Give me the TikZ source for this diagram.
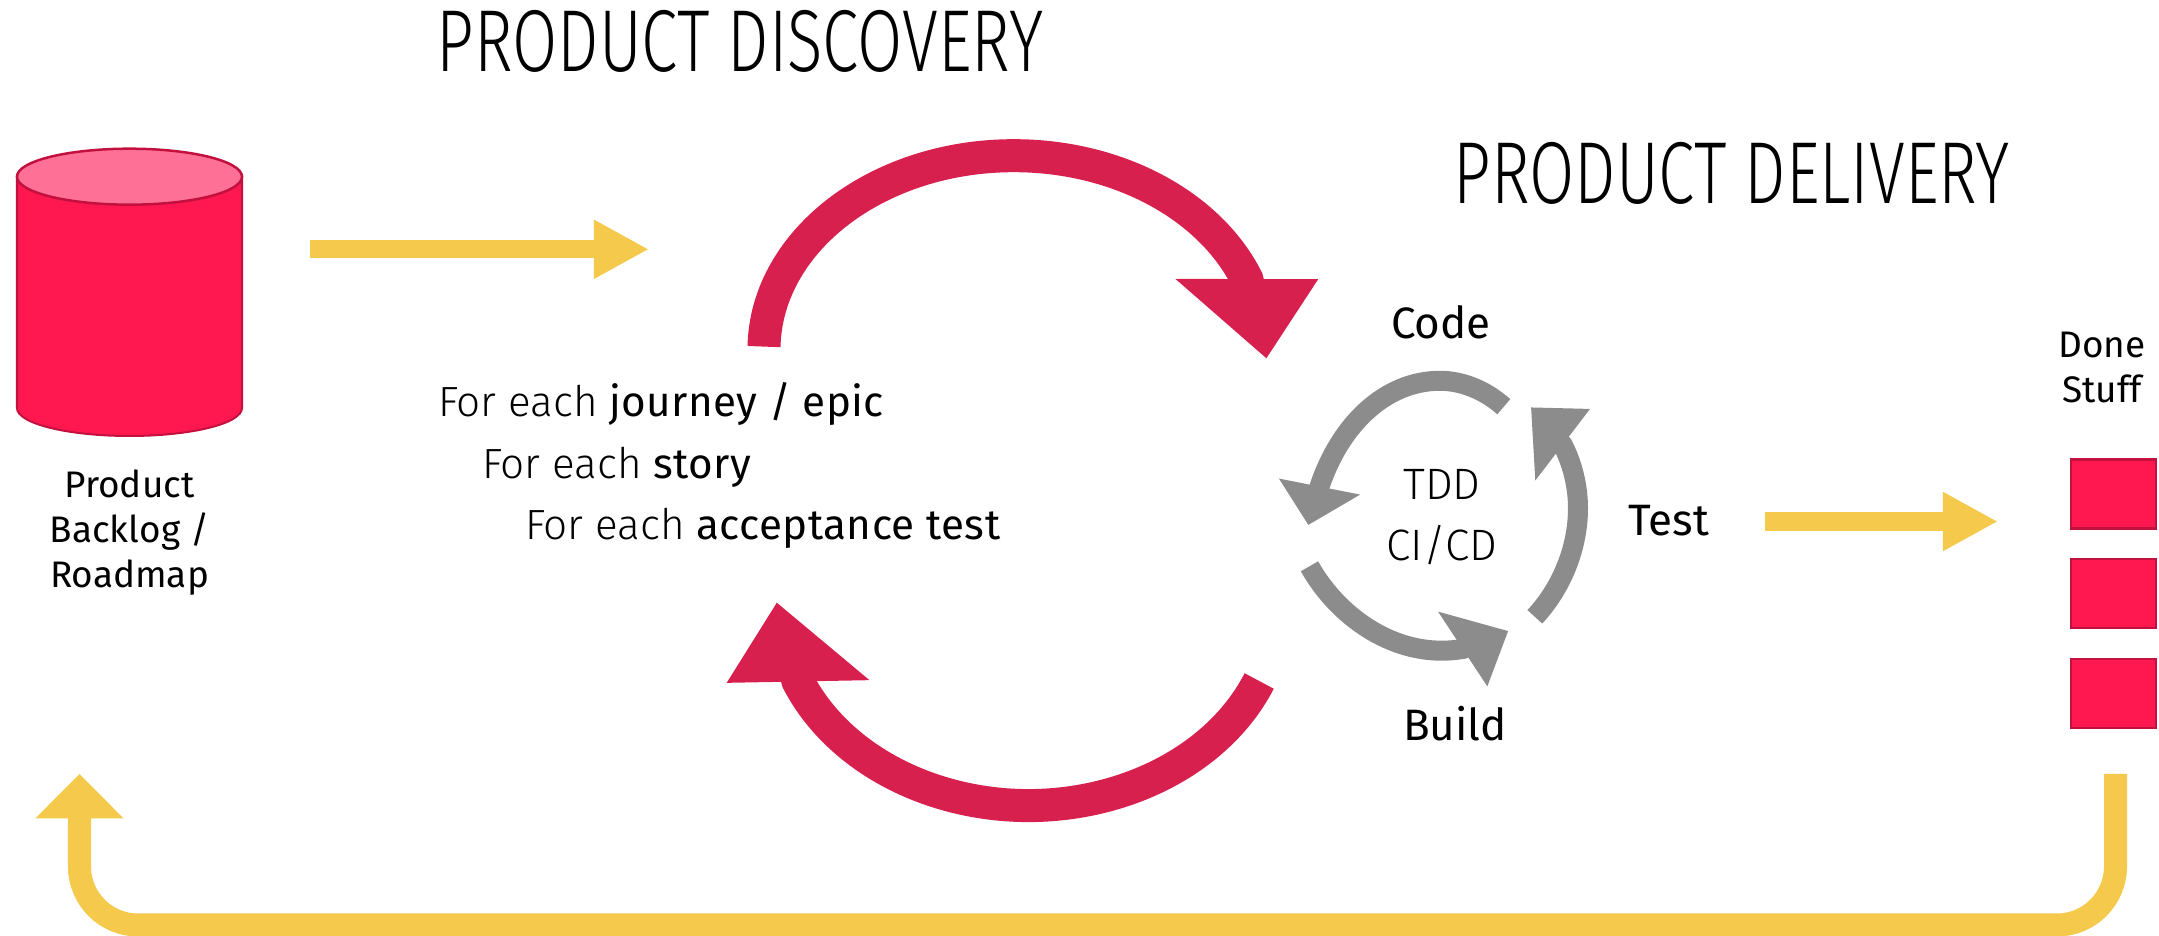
\documentclass[tikz,border=0pt]{standalone}
\usepackage{fontspec}
\setmainfont{Fira Sans}
\newfontfamily\lightfont{Fira Sans Light}
\newfontfamily\medfont[LetterSpace=1]{Fira Sans}
\newfontfamily\titlefont[FakeStretch=0.745]{Fira Sans Light}
\usepackage{xcolor}
\usetikzlibrary{arrows.meta}
\definecolor{flowyellow}{HTML}{F5C94B}
\definecolor{cyclered}{HTML}{D8204F}
\definecolor{stockred}{HTML}{FF174F}
\definecolor{stocktop}{HTML}{FF7096}
\definecolor{stockedge}{HTML}{C3113F}
\definecolor{loopgray}{HTML}{8C8C8C}
\tikzset{
  every node/.style = {inner sep=0pt, outer sep=0pt},
  title label/.style = {anchor=base, font=\titlefont\fontsize{25}{30}\selectfont},
  step label/.style = {anchor=base, font=\fontsize{12.5}{15}\selectfont},
  light label/.style = {anchor=base, font=\lightfont\fontsize{12.5}{15}\selectfont},
  nest label/.style = {anchor=base west, font=\lightfont\fontsize{12}{15}\selectfont},
  stock label/.style = {anchor=base, align=center, font=\fontsize{10.5}{12.8}\selectfont},
  stock body/.style = {draw=stockedge, fill=stockred, line width=0.02cm},
  stock lid/.style = {draw=stockedge, fill=stocktop, line width=0.025cm},
  done box/.style = {draw=stockedge, fill=stockred, line width=0.025cm, minimum width=0.85cm, minimum height=0.69cm},
  flow arrow/.style n args = {3}{draw=flowyellow, line width=#1, -{Triangle[length=#2,width=#3]}},
  cycle arrow/.style = {draw=cyclered, line width=0.33cm, -{Triangle[length=0.82cm,width=1.33cm,slant=0.25]}},
  loop arrow/.style n args = {3}{draw=loopgray, line width=0.2cm, -{Triangle[length=#1,width=#2,slant=#3]}}
}

\begin{document}
\begin{tikzpicture}[x=0.01cm,y=0.01cm]
  \useasboundingbox (0,0) rectangle (2159,936);

  \node[title label] (discovery) at (740,864) {PRODUCT DISCOVERY};
  \node[title label] (delivery) at (1732,732) {PRODUCT DELIVERY};

  \draw[stock body] (17,759.3) -- (17,528) arc[start angle=180, end angle=360, x radius=112.5, y radius=28] -- (242,759.3) -- cycle;
  \draw[stock lid] (129.5,759.3) ellipse[x radius=112.5, y radius=28];
  \node[stock label] (backlog label) at (129.5,348.3) {Product\\Backlog /\\Roadmap};

  \node[nest label] (epic) at (438,519.3) {For each {\medfont journey / epic}};
  \node[nest label] (story) at (482,457.7) {For each {\medfont story}};
  \node[nest label] (test case) at (525,396) {For each {\medfont acceptance test}};

  \node[step label] (code) at (1441,597.7) {Code};
  \node[step label] (build) at (1455,195.3) {Build};
  \node[step label] (test) at (1669,400) {Test};
  \node[light label] (tdd) at (1442,436.7) {TDD};
  \node[light label] (cicd) at (1442,375) {CI/CD};

  \node[stock label] (done label) at (2102,533.4) {Done\\Stuff};
  \node[done box] (done a) at (2113.5,442) {};
  \node[done box] (done b) at (2113.5,342.7) {};
  \node[done box] (done c) at (2113.5,242.5) {};

  \coordinate (pull start) at (310,686.7);
  \coordinate (pull tip) at (649,686.7);
  \coordinate (ship start) at (1765,414.5);
  \coordinate (ship tip) at (1998,414.5);
  \coordinate (back start) at (2115.5,162);
  \coordinate (back low right) at (2115.5,11);
  \coordinate (back low left) at (79.5,11);
  \coordinate (back tip) at (79.5,162);

  \draw[flow arrow={0.183cm}{0.55cm}{0.55cm}] (pull start) -- (pull tip);
  \draw[flow arrow={0.183cm}{0.55cm}{0.55cm}] (ship start) -- (ship tip);
  \draw[flow arrow={0.23cm}{0.443cm}{0.853cm}, rounded corners=0.585cm]
    (back start) -- (back low right) -- (back low left) -- (back tip);

  \coordinate (discover start) at (764,589.4);
  \coordinate (discover tip) at (1266.5,577.3);
  \coordinate (feedback start) at (1259.2,255);
  \coordinate (feedback tip) at (776.7,333.7);

  \draw[cycle arrow] (discover start) arc[start angle=179, end angle=21.3, x radius=250, y radius=194.3] -- (discover tip);
  \draw[cycle arrow] (feedback start) arc[start angle=-22.7, end angle=-157.3, x radius=250, y radius=202.8] -- (feedback tip);

  \coordinate (code start) at (1503.8,529.3);
  \coordinate (code top) at (1440,555.2);
  \coordinate (code base) at (1319.5,449.3);
  \coordinate (code tip) at (1308.3,411);
  \coordinate (build start) at (1309.5,369.7);
  \coordinate (build low) at (1441.7,285.3);
  \coordinate (build base) at (1462.7,287);
  \coordinate (build tip) at (1508.3,305);
  \coordinate (test start) at (1534.8,319.2);
  \coordinate (test right) at (1578,427.7);
  \coordinate (test base) at (1562.7,491.2);
  \coordinate (test tip) at (1531,528.7);

  \draw[loop arrow={0.4cm}{0.8cm}{-0.09}] (code start) .. controls (1485,546) and (1462,555.2) .. (code top)
    .. controls (1385,555.2) and (1340,511) .. (code base) -- (code tip);
  \draw[loop arrow={0.49cm}{0.844cm}{-0.21}] (build start) .. controls (1335,324) and (1385,285.3) .. (build low)
    .. controls (1449,285.3) and (1456,286) .. (build base) -- (build tip);
  \draw[loop arrow={0.49cm}{0.848cm}{-0.22}] (test start) .. controls (1560,346) and (1578,386) .. (test right)
    .. controls (1578,451) and (1572,473) .. (test base) -- (test tip);
\end{tikzpicture}
\end{document}
